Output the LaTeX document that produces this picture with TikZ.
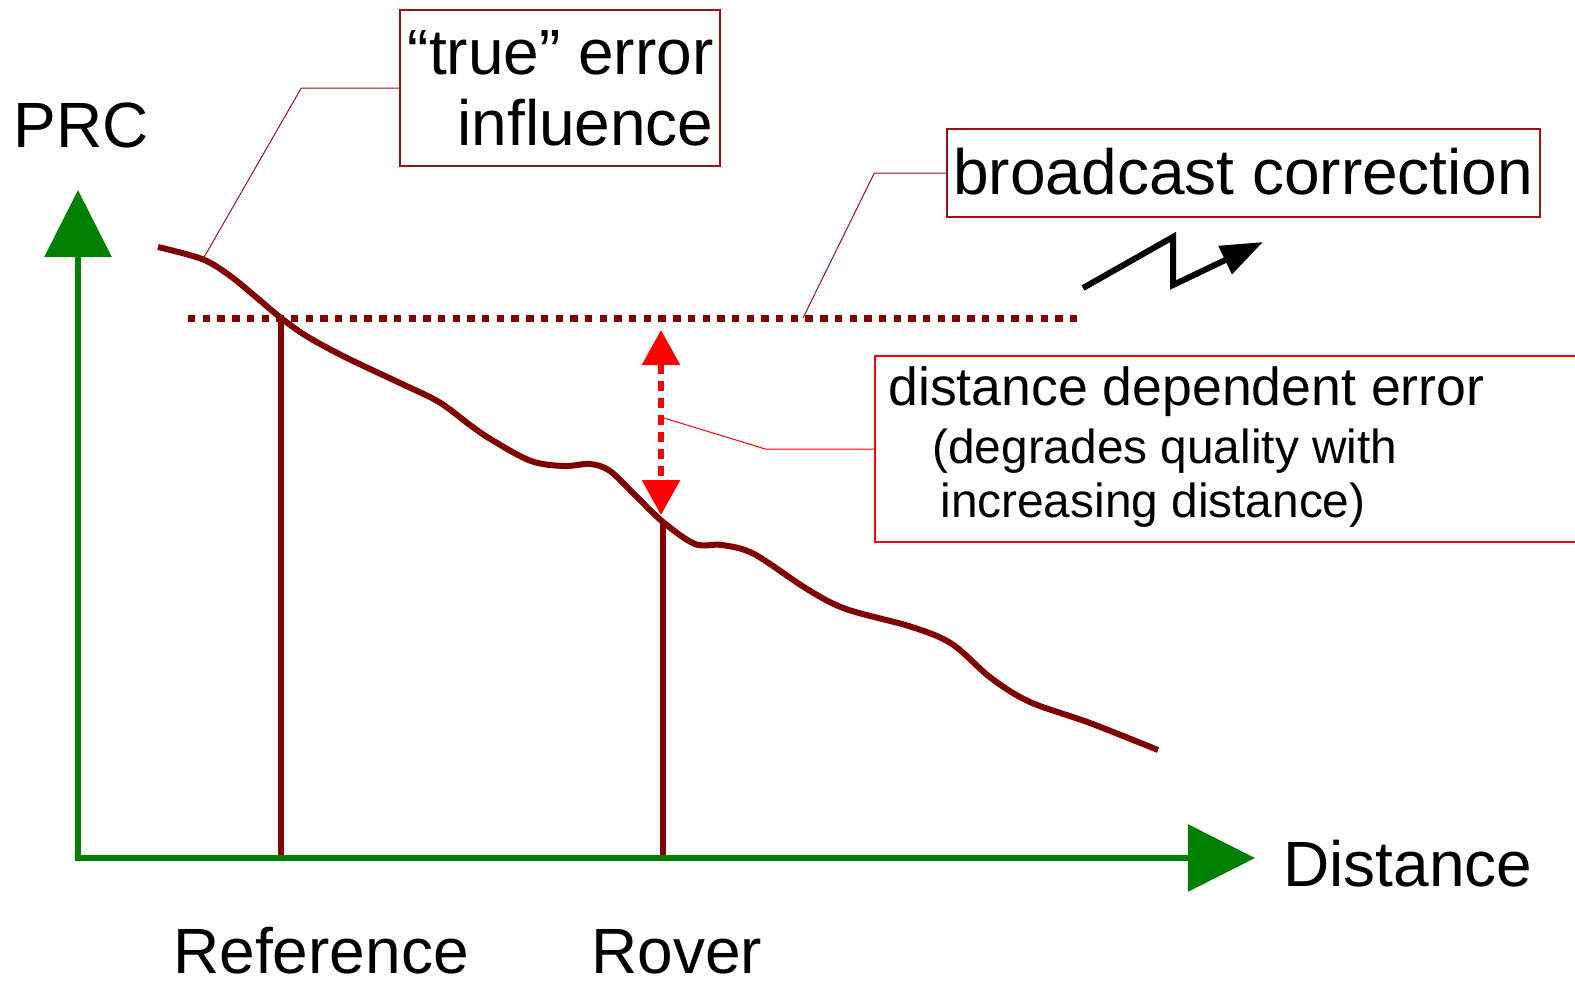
\documentclass[tikz,border=0pt]{standalone}
\usepackage{fontspec}
\setmainfont{Liberation Sans}
\usetikzlibrary{arrows.meta}
\definecolor{curvered}{RGB}{128,0,0}
\definecolor{axisgreen}{RGB}{0,128,0}
\definecolor{boxred}{RGB}{150,20,20}
\definecolor{lightred}{RGB}{255,0,0}

\begin{document}
\begin{tikzpicture}[x=0.5pt,y=-0.5pt,
    bigtext/.style={font=\fontsize{32}{36}\selectfont, inner sep=0pt},
    midtext/.style={font=\fontsize{26.8}{31}\selectfont, inner sep=0pt},
    smalltext/.style={font=\fontsize{23.9}{28}\selectfont, inner sep=0pt},
    callbox/.style={draw=boxred, line width=0.7pt, inner sep=0pt},
    callline/.style={boxred, line width=0.5pt},
    axisline/.style={axisgreen, line width=3.2pt, line join=miter,
      {Triangle[length=33.5pt,width=33pt]}-{Triangle[length=33.5pt,width=33pt]}},
    curveline/.style={curvered, line width=3pt},
    markline/.style={curvered, line width=2.6pt}]
  \useasboundingbox (0,0) rectangle (1575,987);

  % Axis corners
  \coordinate (origin) at (78,858);
  \coordinate (ytip) at (78,190);
  \coordinate (xtip) at (1255,858);

  % Reference and rover points
  \coordinate (ref) at (281,318);
  \coordinate (refbase) at (281,858);
  \coordinate (rov) at (663,522);
  \coordinate (rovbase) at (663,858);

  % Broadcast correction level
  \coordinate (corrL) at (188,318);
  \coordinate (corrR) at (1080,318);
  \coordinate (corrpt) at (803,318);

  % Error gap
  \coordinate (gaptop) at (661,330);
  \coordinate (gapbot) at (661,515);
  \coordinate (gapmid) at (664,418);
  \coordinate (truept) at (203,259);

  % True error curve
  \draw[curveline] plot[smooth, tension=0.55] coordinates {
    (158,247) (202,259) (229,275) (256,297) (281,318) (308,337) (347,358)
    (400,383) (439,402) (470,425) (492,440) (531,461) (564,466) (590,464)
    (610,471) (636,496) (663,522) (695,544) (722,545) (754,554) (807,589)
    (846,609) (912,627) (952,644) (991,678) (1030,702) (1090,723) (1158,750)};

  % Vertical marks
  \draw[markline] (ref) -- (refbase);
  \draw[markline] (rov) -- (rovbase);

  % Axes
  \draw[axisline] (ytip) -- (origin) -- (xtip);

  % Dotted correction line
  \draw[curvered, line width=3.5pt, dash pattern=on 3.7pt off 3.65pt] (corrL) -- (corrR);

  % Distance dependent error arrow
  \draw[lightred, line width=3pt, dash pattern=on 5pt off 3.5pt,
    {Triangle[length=17.5pt,width=18.5pt]}-{Triangle[length=17.5pt,width=18.5pt]}] (gaptop) -- (gapbot);

  % Broadcast symbol
  \coordinate (bcA) at (1083,288);
  \coordinate (bcB) at (1173,237);
  \coordinate (bcC) at (1173,285);
  \coordinate (bcD) at (1263,242);
  \draw[black, line width=3pt, line join=miter, -{Triangle[length=21pt,width=15pt]}]
    (bcA) -- (bcB) -- (bcC) -- (bcD);

  % Boxes
  \node[callbox, minimum width=160pt, minimum height=78pt] (truebox) at (560,88) {};
  \node[callbox, minimum width=296.5pt, minimum height=44pt] (bcbox) at (1243.5,173) {};
  \node[draw=lightred, line width=0.7pt, inner sep=0pt, minimum width=357.5pt, minimum height=93pt] (distbox) at (1232.5,449) {};

  % Box texts
  \node[bigtext, anchor=base east] (truel1) at (714,74) {“true” error};
  \node[bigtext, anchor=base east] (truel2) at (714,145) {influence};
  \node[bigtext, anchor=base west] (bctext) at (953,194) {broadcast correction};
  \node[midtext, anchor=base west] (distl1) at (888,405) {distance dependent error};
  \node[smalltext, anchor=base west] (distl2) at (932,463) {(degrades quality with};
  \node[smalltext, anchor=base west] (distl3) at (940,517) {increasing distance)};

  % Callout lines
  \draw[callline] (truebox.west) -- ++(-98,0) -- (truept);
  \draw[callline] (bcbox.west) -- ++(-72,0) -- (corrpt);
  \draw[lightred, line width=0.5pt] (distbox.west) -- ++(-109,0) -- (gapmid);

  % Axis labels
  \node[bigtext, anchor=base west] (prc) at (13,147) {PRC};
  \node[bigtext, anchor=base west] (dist) at (1283,886) {Distance};
  \node[bigtext, anchor=base west] (reflabel) at (173,973) {Reference};
  \node[bigtext, anchor=base west] (rovlabel) at (591,973) {Rover};
\end{tikzpicture}
\end{document}
